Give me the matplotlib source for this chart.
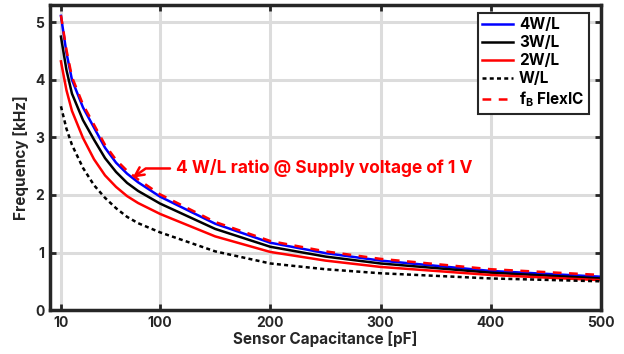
import numpy as np
import matplotlib.pyplot as plt

plt.rcParams['font.family'] = ['Inter', 'DejaVu Sans']
plt.rcParams['font.weight'] = 'bold'

# sensor capacitance [pF]
cap = [10, 15, 20, 30, 40, 50, 60, 70, 80, 100, 150, 200, 250, 300, 400, 500]
# frequency [kHz]
f_4wl = [5.11, 4.47, 4.00, 3.52, 3.17, 2.82, 2.56, 2.37, 2.22, 1.97, 1.50, 1.17, 0.99, 0.86, 0.68, 0.58]
f_3wl = [4.75, 4.17, 3.76, 3.30, 2.96, 2.64, 2.40, 2.21, 2.07, 1.85, 1.41, 1.10, 0.93, 0.81, 0.65, 0.55]
f_2wl = [4.32, 3.82, 3.46, 2.99, 2.62, 2.34, 2.14, 1.98, 1.86, 1.67, 1.28, 1.01, 0.86, 0.75, 0.61, 0.52]
f_1wl = [3.54, 3.15, 2.87, 2.47, 2.17, 1.95, 1.77, 1.62, 1.51, 1.35, 1.02, 0.81, 0.71, 0.64, 0.55, 0.50]
f_flexic = [5.12, 4.52, 4.05, 3.57, 3.22, 2.87, 2.61, 2.42, 2.27, 2.01, 1.53, 1.20, 1.02, 0.89, 0.71, 0.61]

xticks = [10, 100, 200, 300, 400, 500]
yticks = [0, 1, 2, 3, 4, 5]

dark = '#262626'

fig = plt.figure(figsize=(6.24, 3.54), dpi=100)
ax = fig.add_axes([0.080, 0.124, 0.883, 0.862])

ax.plot(cap, f_4wl, color='#0000ff', lw=1.8, label='4W/L')
ax.plot(cap, f_3wl, color='black', lw=1.8, label='3W/L')
ax.plot(cap, f_2wl, color='#ff0000', lw=1.8, label='2W/L')
ax.plot(cap, f_1wl, color='black', lw=1.8, ls=(0, (1.6, 1.3)), label='W/L')
ax.plot(cap, f_flexic, color='#ff0000', lw=1.8, ls=(0, (3.5, 3)), label='f$_\\mathregular{B}$ FlexIC')

ax.annotate('4 W/L ratio @ Supply voltage of 1 V', xy=(75, 2.30), xytext=(114, 2.46),
            color='#ff0000', fontsize=12.5, fontweight='bold', va='center',
            arrowprops=dict(arrowstyle='->', color='#ff0000', lw=1.8,
                            shrinkA=2, shrinkB=0,
                            connectionstyle='angle,angleA=0,angleB=35,rad=0',
                            mutation_scale=16))

ax.set_xlim(0, 500)
ax.set_ylim(0, 5.3)
ax.set_xticks(xticks)
ax.set_yticks(yticks)
ax.grid(True, color='#dcdcdc', lw=2.2)
ax.set_axisbelow(True)
ax.tick_params(direction='in', length=4, width=2, color=dark, labelcolor=dark,
               labelsize=10, top=True, right=True, pad=4)
for s in ax.spines.values():
    s.set_linewidth(2.5)
    s.set_color(dark)

ax.set_xlabel('Sensor Capacitance [pF]', fontsize=11, fontweight='bold', color=dark, labelpad=1)
ax.set_ylabel('Frequency [kHz]', fontsize=11, fontweight='bold', color=dark, labelpad=4)

leg = ax.legend(loc='upper right', bbox_to_anchor=(0.978, 0.975), fontsize=11,
                fancybox=False, framealpha=1, edgecolor=dark, handlelength=2.0,
                borderpad=0.3, labelspacing=0.2, handletextpad=0.4, borderaxespad=0)
leg.get_frame().set_linewidth(1.5)
for t in leg.get_texts():
    t.set_fontweight('bold')

fig.savefig('out.png', dpi=100)
